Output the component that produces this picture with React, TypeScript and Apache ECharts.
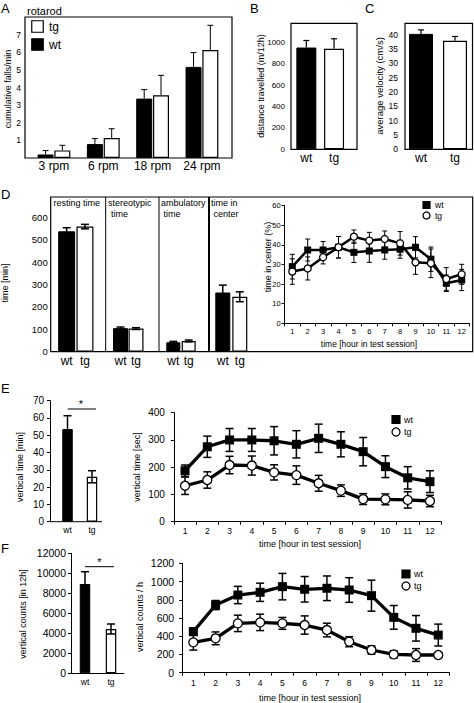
import React, { useEffect, useRef } from 'react';
import * as echarts from 'echarts';

const FONT = "'Liberation Sans', Arial, Helvetica, sans-serif";

// ---------- categories ----------
const genotypes = ['wt', 'tg'];
const rpmLabels = ['3 rpm', '6 rpm', '18 rpm', '24 rpm'];
const hours = ['1', '2', '3', '4', '5', '6', '7', '8', '9', '10', '11', '12'];

// ---------- A: rotarod ----------
const rotarodWt = [0.2, 0.79, 3.37, 5.17];
const rotarodWtErr = [0.22, 0.31, 0.51, 0.81];
const rotarodTg = [0.43, 1.13, 3.56, 6.13];
const rotarodTgErr = [0.29, 0.53, 1.13, 1.4];

// ---------- B / C ----------
const distance = [953, 941];
const distanceErr = [66, 94];
const velocity = [40.3, 37.9];
const velocityErr = [1.4, 1.5];

// ---------- D left ----------
const restingTime = [537, 558];
const restingErr = [16, 10];
const stereoTime = [105, 103];
const stereoErr = [5, 4];
const ambulTime = [42, 48];
const ambulErr = [4, 4];
const centerTime = [264, 245];
const centerTimeErr = [33, 22];

// ---------- D right: time in center (%) ----------
const centerPctWt = [28.9, 37.4, 37.4, 38.8, 36.2, 36.9, 37.4, 37.8, 38.8, 32.7, 20.4, 22.1];
const centerPctWtErr = [6.3, 5.6, 4.3, 5.5, 5.2, 5.8, 4.7, 4.6, 5.4, 6.2, 4.2, 5.4];
const centerPctTg = [26.4, 28, 33.7, 38.8, 44.2, 42.2, 43, 40.8, 31.1, 30.6, 22.6, 25];
const centerPctTgErr = [6.5, 5.9, 3.4, 5.5, 3.4, 4.2, 4.1, 6, 6.1, 7.3, 5.8, 5.1];

// ---------- E ----------
const verticalTime = [53.6, 26];
const verticalTimeErr = [7.7, 3.5];
const vtWt = [187, 275, 300, 300, 297, 284, 306, 284, 257, 202, 161, 147];
const vtWtErr = [21, 39, 42, 42, 52, 50, 52, 46, 52, 40, 41, 40];
const vtTg = [132, 153, 208, 206, 181, 171, 141, 114, 83, 82, 80, 76];
const vtTgErr = [32, 30, 32, 35, 28, 34, 29, 21, 20, 20, 30, 21];

// ---------- F ----------
const verticalCounts = [8930, 4430];
const verticalCountsErr = [1230, 500];
const vcWt = [450, 742, 852, 882, 944, 915, 926, 907, 845, 607, 487, 413];
const vcWtErr = [40, 50, 95, 100, 145, 140, 135, 135, 170, 130, 140, 120];
const vcTg = [333, 377, 541, 552, 541, 523, 468, 340, 249, 201, 194, 194];
const vcTgErr = [85, 70, 90, 90, 65, 100, 75, 55, 45, 40, 70, 20];

// ---------- helpers ----------
function errorSeries(axis: number, vals: number[], errs: number[], offset: number, twoSided: boolean, cap: number, lw: number, z: number) {
  return {
    type: 'custom',
    xAxisIndex: axis,
    yAxisIndex: axis,
    z,
    silent: true,
    clip: false,
    data: vals.map((v, i) => [i, v, errs[i]]),
    renderItem: (params: any, api: any) => {
      const i = api.value(0);
      const v = api.value(1);
      const e = api.value(2);
      const top = api.coord([i, v + e]);
      const base = api.coord([i, twoSided ? v - e : v]);
      const x = top[0] + offset;
      const st = { stroke: '#000', lineWidth: lw };
      const children: any[] = [
        { type: 'line', shape: { x1: x, y1: top[1], x2: x, y2: base[1] }, style: st },
        { type: 'line', shape: { x1: x - cap, y1: top[1], x2: x + cap, y2: top[1] }, style: st },
      ];
      if (twoSided) {
        children.push({ type: 'line', shape: { x1: x - cap, y1: base[1], x2: x + cap, y2: base[1] }, style: st });
      }
      return { type: 'group', children };
    },
  };
}

function barItems(vals: number[]) {
  return vals.map((v, i) => ({
    value: v,
    itemStyle: i === 0
      ? { color: '#000', borderColor: '#000', borderWidth: 1 }
      : { color: '#fff', borderColor: '#000', borderWidth: 1.2 },
  }));
}

function catAxis(gi: number, data: string[], o: any) {
  return {
    type: 'category',
    gridIndex: gi,
    data,
    boundaryGap: true,
    axisLine: { show: o.line ?? false, lineStyle: { color: '#000', width: 1 } },
    axisTick: { show: o.tick ?? false, length: 3, lineStyle: { color: '#000' } },
    axisLabel: { color: '#000', fontSize: o.fs, margin: o.margin, fontFamily: FONT, interval: 0 },
    splitLine: { show: false },
  };
}

function valAxis(gi: number, max: number, interval: number, o: any) {
  return {
    type: 'value',
    gridIndex: gi,
    min: 0,
    max,
    interval,
    offset: o.offset ?? 0,
    axisLine: { show: o.line ?? false, lineStyle: { color: '#000', width: 1 } },
    axisTick: { show: o.tick ?? false, length: 3, lineStyle: { color: '#000' } },
    axisLabel: {
      show: o.label ?? true,
      color: '#000',
      fontSize: o.fs,
      margin: o.margin,
      fontFamily: FONT,
      showMinLabel: o.showMin ?? true,
      showMaxLabel: o.showMax ?? true,
      formatter: (v: number) => String(v),
    },
    splitLine: { show: false },
  };
}

function lineSeries(axis: number, data: number[], isWt: boolean, size: number, width: number) {
  return {
    type: 'line',
    xAxisIndex: axis,
    yAxisIndex: axis,
    data,
    z: isWt ? 3 : 4,
    symbol: isWt ? 'rect' : 'circle',
    symbolSize: size,
    showSymbol: true,
    showAllSymbol: true,
    itemStyle: isWt ? { color: '#000' } : { color: '#fff', borderColor: '#000', borderWidth: 1.3 },
    lineStyle: { color: '#000', width },
  };
}

function txt(text: string, x: number, y: number, fontSize: number, align = 'left', rotate = false) {
  return {
    type: 'text',
    x,
    y,
    rotation: rotate ? Math.PI / 2 : 0,
    z: 20,
    style: { text, fill: '#000', fontSize, fontFamily: FONT, align, verticalAlign: 'middle' },
  };
}

function box(x: number, y: number, w: number, h: number, lw = 1.2) {
  return { type: 'rect', z: 15, shape: { x, y, width: w, height: h }, style: { fill: 'none', stroke: '#000', lineWidth: lw } };
}

function seg(x1: number, y1: number, x2: number, y2: number, lw = 1) {
  return { type: 'line', z: 15, shape: { x1, y1, x2, y2 }, style: { stroke: '#000', lineWidth: lw } };
}

function sqKey(cx: number, cy: number, s: number, filled: boolean) {
  return { type: 'rect', z: 20, shape: { x: cx - s / 2, y: cy - s / 2, width: s, height: s }, style: { fill: filled ? '#000' : '#fff', stroke: '#000', lineWidth: 1.2 } };
}

function circKey(cx: number, cy: number, r: number) {
  return { type: 'circle', z: 20, shape: { cx, cy, r }, style: { fill: '#fff', stroke: '#000', lineWidth: 1.3 } };
}

export default function App() {
  const ref = useRef<HTMLDivElement>(null);

  useEffect(() => {
    if (!ref.current) return;
    const chart = echarts.init(ref.current, null, { renderer: 'svg' });

    const grids = [
      { left: 29.3, top: 17, width: 197.3, height: 141 }, // 0 A
      { left: 292.5, top: 23.3, width: 55.4, height: 126 }, // 1 B
      { left: 404, top: 23.3, width: 68, height: 126 }, // 2 C
      { left: 57.5, top: 197, width: 36.6, height: 154.7 }, // 3 D resting
      { left: 112.75, top: 197, width: 31, height: 154.7 }, // 4 D stereo
      { left: 165.6, top: 197, width: 30.8, height: 154.7 }, // 5 D ambul
      { left: 214.3, top: 197, width: 34, height: 154.7 }, // 6 D center
      { left: 284.6, top: 205.7, width: 184.8, height: 117.6 }, // 7 D right
      { left: 55.25, top: 400.7, width: 49, height: 121 }, // 8 E left
      { left: 173.9, top: 412.7, width: 267.2, height: 109 }, // 9 E right
      { left: 72, top: 553.3, width: 52, height: 120 }, // 10 F left
      { left: 182.2, top: 563.3, width: 267.2, height: 109.4 }, // 11 F right
    ];

    const xAxes = [
      catAxis(0, rpmLabels, { fs: 12, margin: 2 }),
      catAxis(1, genotypes, { fs: 12, margin: 3 }),
      catAxis(2, genotypes, { fs: 12, margin: 3 }),
      catAxis(3, genotypes, { fs: 12, margin: 3 }),
      catAxis(4, genotypes, { fs: 12, margin: 3 }),
      catAxis(5, genotypes, { fs: 12, margin: 3 }),
      catAxis(6, genotypes, { fs: 12, margin: 3 }),
      catAxis(7, hours, { line: true, tick: true, fs: 7.5, margin: 4 }),
      catAxis(8, genotypes, { fs: 8.5, margin: 4 }),
      catAxis(9, hours, { line: true, tick: true, fs: 8.5, margin: 5 }),
      catAxis(10, genotypes, { line: true, fs: 8.5, margin: 4 }),
      catAxis(11, hours, { line: true, tick: true, fs: 8.5, margin: 6 }),
    ];

    const yAxes = [
      valAxis(0, 8, 1, { offset: 4.3, fs: 8.5, margin: 4, showMin: false, showMax: false }),
      valAxis(1, 1180, 200, { offset: 1.5, fs: 8, margin: 6, showMax: false }),
      valAxis(2, 44, 5, { offset: 0, fs: 8.5, margin: 6, showMax: false }),
      valAxis(3, 690, 100, { offset: 6.8, fs: 9.5, margin: 3, showMax: false }),
      valAxis(4, 690, 100, { label: false }),
      valAxis(5, 690, 100, { label: false }),
      valAxis(6, 690, 100, { label: false }),
      valAxis(7, 60, 10, { line: true, tick: true, fs: 7.5, margin: 4 }),
      valAxis(8, 70, 10, { offset: 5.25, line: true, tick: true, fs: 10, margin: 6 }),
      valAxis(9, 400, 100, { line: true, tick: true, fs: 10, margin: 9 }),
      valAxis(10, 12000, 2000, { offset: 1, line: true, tick: true, fs: 10.5, margin: 5 }),
      valAxis(11, 1200, 200, { line: true, tick: true, fs: 10.5, margin: 8 }),
    ];

    const series: any[] = [
      // A
      { type: 'bar', name: 'wt', xAxisIndex: 0, yAxisIndex: 0, data: rotarodWt, barWidth: 16, barGap: '5%', itemStyle: { color: '#000', borderColor: '#000', borderWidth: 1 } },
      { type: 'bar', name: 'tg', xAxisIndex: 0, yAxisIndex: 0, data: rotarodTg, barWidth: 16, barGap: '5%', itemStyle: { color: '#fff', borderColor: '#000', borderWidth: 1.2 } },
      errorSeries(0, rotarodWt, rotarodWtErr, -8.4, false, 3, 1, 5),
      errorSeries(0, rotarodTg, rotarodTgErr, 8.4, false, 3, 1, 5),
      // B
      { type: 'bar', xAxisIndex: 1, yAxisIndex: 1, data: barItems(distance), barWidth: 20 },
      errorSeries(1, distance, distanceErr, 0, false, 3, 1.2, 5),
      // C
      { type: 'bar', xAxisIndex: 2, yAxisIndex: 2, data: barItems(velocity), barWidth: 24 },
      errorSeries(2, velocity, velocityErr, 0, false, 3, 1.2, 5),
      // D left
      { type: 'bar', xAxisIndex: 3, yAxisIndex: 3, data: barItems(restingTime), barWidth: 17 },
      errorSeries(3, restingTime, restingErr, 0, true, 4, 1.5, 5),
      { type: 'bar', xAxisIndex: 4, yAxisIndex: 4, data: barItems(stereoTime), barWidth: 15 },
      errorSeries(4, stereoTime, stereoErr, 0, true, 4, 1.5, 5),
      { type: 'bar', xAxisIndex: 5, yAxisIndex: 5, data: barItems(ambulTime), barWidth: 14 },
      errorSeries(5, ambulTime, ambulErr, 0, true, 4, 1.5, 5),
      { type: 'bar', xAxisIndex: 6, yAxisIndex: 6, data: barItems(centerTime), barWidth: 15 },
      errorSeries(6, centerTime, centerTimeErr, 0, true, 4, 1.5, 5),
      // D right
      errorSeries(7, centerPctWt, centerPctWtErr, 0, true, 2.5, 1, 1),
      errorSeries(7, centerPctTg, centerPctTgErr, 0, true, 2.5, 1, 1),
      lineSeries(7, centerPctWt, true, 7, 2.5),
      lineSeries(7, centerPctTg, false, 7, 2.5),
      // E left
      { type: 'bar', xAxisIndex: 8, yAxisIndex: 8, data: barItems(verticalTime), barWidth: 10.5 },
      errorSeries(8, verticalTime, verticalTimeErr, 0, true, 4, 1.5, 5),
      // E right
      errorSeries(9, vtWt, vtWtErr, 0, true, 4, 1.5, 1),
      errorSeries(9, vtTg, vtTgErr, 0, true, 4, 1.5, 1),
      lineSeries(9, vtWt, true, 9, 3.3),
      lineSeries(9, vtTg, false, 9, 3.3),
      // F left
      { type: 'bar', xAxisIndex: 10, yAxisIndex: 10, data: barItems(verticalCounts), barWidth: 10.5 },
      errorSeries(10, verticalCounts, verticalCountsErr, 0, true, 4, 1.5, 5),
      // F right
      errorSeries(11, vcWt, vcWtErr, 0, true, 4, 1.5, 1),
      errorSeries(11, vcTg, vcTgErr, 0, true, 4, 1.5, 1),
      lineSeries(11, vcWt, true, 9, 3.3),
      lineSeries(11, vcTg, false, 9, 3.3),
    ];

    const graphic: any[] = [
      // panel letters
      txt('A', 1, 8, 13),
      txt('B', 250, 8, 13),
      txt('C', 365, 8, 13),
      txt('D', 1, 194, 13),
      txt('E', 1, 388, 13),
      txt('F', 1, 548, 13),
      // A
      box(25, 17, 207, 141),
      txt('rotarod', 27, 11, 11),
      sqKey(37.5, 26.5, 11.5, false),
      txt('tg', 49, 26.5, 12),
      sqKey(37.5, 44.5, 11.5, true),
      txt('wt', 49, 44.5, 12),
      txt('cumulative falls/min', 8, 89, 9, 'center', true),
      // B
      box(291, 23.3, 66, 126),
      txt('distance travelled (m/12h)', 261, 86, 9, 'center', true),
      // C
      box(405, 23.3, 67.5, 126),
      txt('average velocity (cm/s)', 379, 86, 9.5, 'center', true),
      // D
      box(50.7, 197, 422, 154.7),
      seg(105.7, 197, 105.7, 351.7, 1),
      seg(159, 197, 159, 351.7, 1),
      seg(209, 197, 209, 351.7, 2),
      txt('resting time', 53.5, 202.5, 9),
      txt('stereotypic', 108, 202.5, 9),
      txt('time', 111, 213.5, 9),
      txt('ambulatory', 161, 202.5, 9),
      txt('time', 163.5, 213.5, 9),
      txt('time in', 211, 202.5, 9),
      txt('center', 213.5, 213.5, 9),
      txt('time [min]', 5, 283, 9, 'center', true),
      txt('time in center (%)', 268, 257, 9, 'center', true),
      txt('time [hour in test session]', 369, 344, 8.5, 'center'),
      sqKey(426.5, 205, 7, true),
      txt('wt', 435, 205, 8.5),
      circKey(426.5, 215.5, 3.5),
      txt('tg', 435, 216, 8.5),
      // E
      seg(50, 521.7, 102, 521.7, 1),
      seg(67.7, 409, 96, 409, 1),
      txt('*', 81, 404, 11, 'center'),
      txt('vertical time [min]', 20, 467, 9, 'center', true),
      txt('vertical time [sec]', 137, 467, 9, 'center', true),
      txt('time [hour in test session]', 310, 543.5, 9, 'center'),
      sqKey(396, 419.5, 8, true),
      txt('wt', 404, 420, 9),
      circKey(396, 432, 4),
      txt('tg', 404, 432, 9),
      // F
      seg(85, 566.7, 114, 566.7, 1),
      txt('*', 99.3, 562, 11, 'center'),
      txt('vertical counts [in 12h]', 23, 614, 9, 'center', true),
      txt('vertical counts / h', 139.5, 617, 9, 'center', true),
      txt('time [hour in test session]', 310, 698, 9, 'center'),
      sqKey(406, 574, 8, true),
      txt('wt', 414, 574, 9),
      circKey(406, 586, 4),
      txt('tg', 414, 586, 9),
    ];

    chart.setOption({
      animation: false,
      backgroundColor: '#fff',
      textStyle: { fontFamily: FONT },
      grid: grids,
      xAxis: xAxes,
      yAxis: yAxes,
      series,
      graphic,
    });

    return () => chart.dispose();
  }, []);

  return (
    <div
      ref={ref}
      style={{ position: 'absolute', left: 0, top: 0, width: 474, height: 703, background: '#fff' }}
    />
  );
}
